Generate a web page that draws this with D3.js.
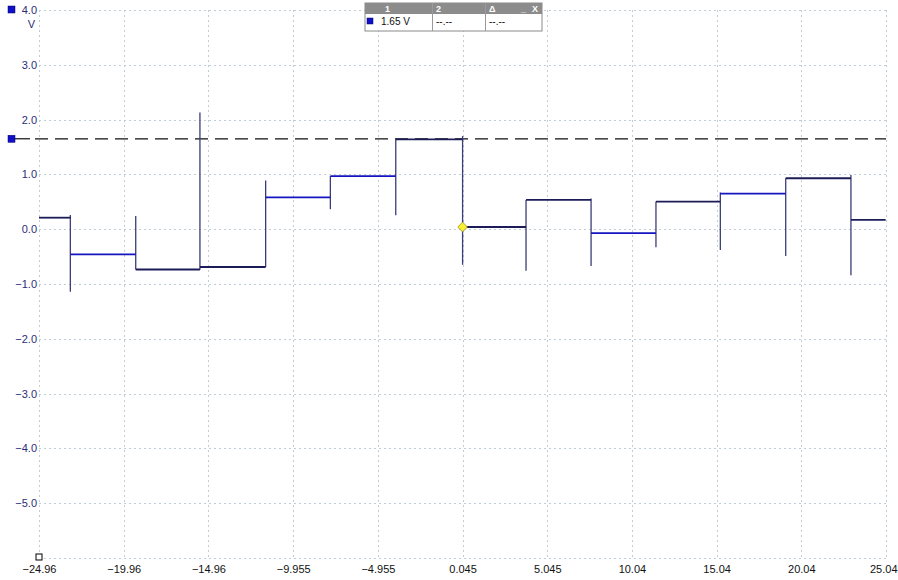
<!DOCTYPE html>
<html>
<head>
<meta charset="utf-8">
<script src="https://cdn.jsdelivr.net/npm/d3@7"></script>
<style>
  body { margin: 0; background: #fff; }
  svg { display: block; font-family: "Liberation Sans", Arial, sans-serif; }
</style>
</head>
<body>
<svg id="chart"></svg>
<script>
// step trace: times where the level changes, and the level held after each edge
const tStart = -24.96;
const tEnd = 25.02;
const edgeTimes = [-23.11, -19.25, -15.46, -11.58, -7.76, -3.90, 0.045, 3.79, 7.63, 11.46, 15.26, 19.12, 22.97];
const levels = [0.21, -0.46, -0.735, -0.69, 0.58, 0.97, 1.64, 0.04, 0.535, -0.073, 0.505, 0.65, 0.93, 0.17];
// glitch extent of each edge (top / bottom of the vertical stroke)
const edgeTop = [0.26, 0.24, 2.13, 0.89, 0.97, 1.64, 1.70, 0.535, 0.56, 0.505, 0.67, 0.93, 0.99];
const edgeBottom = [-1.14, -0.735, -0.74, -0.69, 0.365, 0.255, -0.65, -0.76, -0.67, -0.33, -0.38, -0.49, -0.84];
// segments drawn in the brighter blue
const brightSegs = [1, 4, 5, 9, 11];

const cursorLevel = 1.65;
const triggerTime = 0.045;
const triggerLevel = 0.04;

const xTicks = [-24.96, -19.96, -14.96, -9.955, -4.955, 0.045, 5.045, 10.04, 15.04, 20.04, 25.04];
const xTickLabels = ["\u221224.96", "\u221219.96", "\u221214.96", "\u22129.955", "\u22124.955", "0.045", "5.045", "10.04", "15.04", "20.04", "25.04"];
const yTicks = [4, 3, 2, 1, 0, -1, -2, -3, -4, -5, -6];
const yTickLabels = ["4.0", "3.0", "2.0", "1.0", "0.0", "\u22121.0", "\u22122.0", "\u22123.0", "\u22124.0", "\u22125.0", ""];

const width = 898;
const height = 580;
const margin = { top: 10, right: 12, bottom: 22, left: 39 };

const svg = d3.select("#chart")
    .attr("width", width)
    .attr("height", height);

const x = d3.scaleLinear()
    .domain([-24.96, 25.04])
    .range([margin.left, width - margin.right]);

const y = d3.scaleLinear()
    .domain([-6, 4])
    .range([height - margin.bottom, margin.top]);

// grid
const grid = svg.append("g").attr("class", "grid")
    .attr("stroke", "#c0ccd6")
    .attr("stroke-width", 1)
    .attr("stroke-dasharray", "2,3");

grid.selectAll("line.v")
    .data(xTicks)
    .enter()
    .append("line")
    .attr("class", "v")
    .attr("x1", d => Math.round(x(d)) + 0.5)
    .attr("x2", d => Math.round(x(d)) + 0.5)
    .attr("y1", y(4))
    .attr("y2", y(-6));

grid.selectAll("line.h")
    .data(yTicks)
    .enter()
    .append("line")
    .attr("class", "h")
    .attr("x1", x(-24.96))
    .attr("x2", x(25.04))
    .attr("y1", d => Math.round(y(d)) + 0.5)
    .attr("y2", d => Math.round(y(d)) + 0.5);

// y axis labels
const yAxis = svg.append("g")
    .attr("transform", `translate(${margin.left - 2},0)`)
    .call(d3.axisLeft(y).tickValues(yTicks).tickSize(0).tickPadding(0)
        .tickFormat((d, i) => yTickLabels[i]));
yAxis.select(".domain").remove();
yAxis.selectAll("text")
    .attr("fill", "#2e2e78")
    .attr("font-size", 11)
    .attr("font-family", "Liberation Sans, Arial, sans-serif");

svg.append("text")
    .attr("x", margin.left - 4)
    .attr("y", y(4) + 18)
    .attr("text-anchor", "end")
    .attr("fill", "#2e2e78")
    .attr("font-size", 11)
    .text("V");

svg.append("rect")
    .attr("x", 8).attr("y", y(4) - 4)
    .attr("width", 7).attr("height", 7)
    .attr("fill", "#1010c8").attr("stroke", "#000060").attr("stroke-width", 0.5);

// x axis labels
const xAxis = svg.append("g")
    .attr("transform", `translate(0,${height - margin.bottom + 7})`)
    .call(d3.axisBottom(x).tickValues(xTicks).tickSize(0).tickPadding(0)
        .tickFormat((d, i) => xTickLabels[i]));
xAxis.select(".domain").remove();
xAxis.selectAll("text")
    .attr("fill", "#111")
    .attr("font-size", 11)
    .attr("font-family", "Liberation Sans, Arial, sans-serif");
// last label sits flush with the right edge
xAxis.selectAll(".tick").filter((d, i) => i === xTicks.length - 1)
    .select("text")
    .attr("text-anchor", "end")
    .attr("dx", 11);

// time origin marker (open square)
svg.append("rect")
    .attr("x", x(-24.96) - 3).attr("y", y(-6) - 4)
    .attr("width", 6).attr("height", 6)
    .attr("fill", "#fff").attr("stroke", "#000").attr("stroke-width", 1);

// cursor line
svg.append("line")
    .attr("x1", 15).attr("x2", 30)
    .attr("y1", y(cursorLevel)).attr("y2", y(cursorLevel))
    .attr("stroke", "#111").attr("stroke-width", 1.2);
svg.append("line")
    .attr("x1", 35).attr("x2", x(25.04))
    .attr("y1", y(cursorLevel)).attr("y2", y(cursorLevel))
    .attr("stroke", "#111").attr("stroke-width", 1.2)
    .attr("stroke-dasharray", "13,7");
svg.append("rect")
    .attr("x", 8).attr("y", y(cursorLevel) - 3.5)
    .attr("width", 7).attr("height", 7)
    .attr("fill", "#1010c8").attr("stroke", "#000060").attr("stroke-width", 0.5);

// trace
const bounds = [tStart].concat(edgeTimes, [tEnd]);
const segs = levels.map((v, i) => ({ t0: bounds[i], t1: bounds[i + 1], v: v, bright: brightSegs.includes(i) }));
const edges = edgeTimes.map((t, i) => ({ t: t, top: edgeTop[i], bottom: edgeBottom[i] }));

const trace = svg.append("g").attr("class", "trace");

trace.selectAll("line.edge")
    .data(edges)
    .enter()
    .append("line")
    .attr("class", "edge")
    .attr("x1", d => x(d.t)).attr("x2", d => x(d.t))
    .attr("y1", d => y(d.top)).attr("y2", d => y(d.bottom))
    .attr("stroke", "#3c3c78")
    .attr("stroke-width", 1.3);

trace.selectAll("line.seg")
    .data(segs)
    .enter()
    .append("line")
    .attr("class", "seg")
    .attr("x1", d => x(d.t0)).attr("x2", d => x(d.t1))
    .attr("y1", d => y(d.v)).attr("y2", d => y(d.v))
    .attr("stroke", d => d.bright ? "#1414c0" : "#1c1c58")
    .attr("stroke-width", 1.8);

// trigger diamond
svg.append("path")
    .attr("d", d3.symbol().type(d3.symbolDiamond2).size(60)())
    .attr("transform", `translate(${x(triggerTime)},${y(triggerLevel)})`)
    .attr("fill", "#f8f030")
    .attr("stroke", "#a09020")
    .attr("stroke-width", 0.8);

// cursor readout box
const box = svg.append("g").attr("transform", "translate(365,3)");
const colX = [0, 67, 120, 177];
box.append("rect")
    .attr("x", 0).attr("y", 0).attr("width", 177).attr("height", 28)
    .attr("fill", "#fff").attr("stroke", "#8a8a8a");
box.append("rect")
    .attr("x", 0).attr("y", 0).attr("width", 177).attr("height", 11)
    .attr("fill", "#8c8c8c");
box.selectAll("line.col")
    .data(colX.slice(1, 3))
    .enter()
    .append("line")
    .attr("x1", d => d + 0.5).attr("x2", d => d + 0.5)
    .attr("y1", 0).attr("y2", 28)
    .attr("stroke", "#9a9a9a");
const heads = ["1", "2", "\u0394"];
box.selectAll("text.head")
    .data(heads)
    .enter()
    .append("text")
    .attr("x", (d, i) => colX[i] + (i === 0 ? 20 : 4))
    .attr("y", 9)
    .attr("fill", "#fff")
    .attr("font-size", 9)
    .attr("font-weight", "bold")
    .text(d => d);
box.append("text").attr("x", 156).attr("y", 9)
    .attr("fill", "#fff").attr("font-size", 9).attr("font-weight", "bold").text("_");
box.append("text").attr("x", 167).attr("y", 9)
    .attr("fill", "#fff").attr("font-size", 9).attr("font-weight", "bold").text("X");
box.append("rect")
    .attr("x", 2).attr("y", 15).attr("width", 6).attr("height", 6)
    .attr("fill", "#1010c8").attr("stroke", "#000060").attr("stroke-width", 0.5);
const vals = ["1.65 V", "--.--", "--.--"];
box.selectAll("text.val")
    .data(vals)
    .enter()
    .append("text")
    .attr("x", (d, i) => colX[i] + (i === 0 ? 16 : 4))
    .attr("y", 22)
    .attr("fill", "#111")
    .attr("font-size", 10)
    .text(d => d);
</script>
</body>
</html>
